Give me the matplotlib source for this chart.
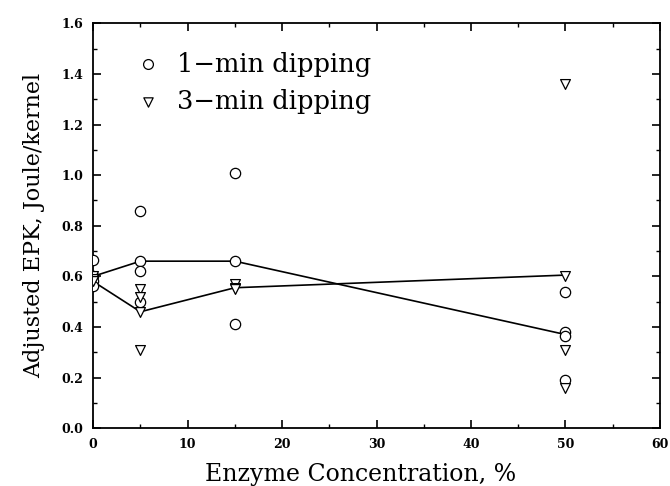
import numpy as np
import matplotlib
matplotlib.use('Agg')
import matplotlib.pyplot as plt
from matplotlib.ticker import MultipleLocator

# scatter data
x1 = [0, 0, 0, 0, 5, 5, 5, 5, 15, 15, 15, 50, 50, 50, 50]
y1 = [0.665, 0.60, 0.58, 0.56, 0.86, 0.66, 0.62, 0.50, 1.01, 0.66, 0.41, 0.54, 0.38, 0.365, 0.19]
x3 = [0, 0, 0, 5, 5, 5, 5, 15, 15, 15, 50, 50, 50, 50]
y3 = [0.60, 0.59, 0.58, 0.55, 0.52, 0.46, 0.31, 0.57, 0.555, 0.55, 1.36, 0.60, 0.31, 0.16]

# mean lines
xm = [0, 5, 15, 50]
m1 = [0.60, 0.66, 0.66, 0.37]
m3 = [0.58, 0.46, 0.555, 0.605]

plt.rcParams['font.family'] = ['DejaVu Serif']

fig = plt.figure(figsize=(6.7, 4.86), dpi=100)
ax = fig.add_axes([0.139, 0.119, 0.846, 0.833])

ax.plot(xm, m1, color='black', lw=1.2, zorder=2)
ax.plot(xm, m3, color='black', lw=1.2, zorder=2)
ax.scatter(x1, y1, marker='o', s=55, facecolors='white', edgecolors='black', linewidths=0.9, zorder=3)
ax.scatter(x3, y3, marker='v', s=50, facecolors='white', edgecolors='black', linewidths=0.9, zorder=3)

ax.set_xlim(0, 60)
ax.set_ylim(0, 1.6)
ax.xaxis.set_major_locator(MultipleLocator(10))
ax.xaxis.set_minor_locator(MultipleLocator(5))
ax.yaxis.set_major_locator(MultipleLocator(0.2))
ax.yaxis.set_minor_locator(MultipleLocator(0.1))
ax.yaxis.set_major_formatter(plt.FuncFormatter(lambda v, p: '%.1f' % v))
ax.tick_params(which='both', direction='in', top=True, right=True, labelsize=9)
ax.tick_params(which='major', length=6, width=1.2, pad=7)
ax.tick_params(which='minor', length=3, width=1.0)
for lab in ax.get_xticklabels() + ax.get_yticklabels():
    lab.set_fontweight('bold')
for sp in ax.spines.values():
    sp.set_linewidth(1.3)

fig.text(361 / 670, 0.024, 'Enzyme Concentration, %', fontsize=17, ha='center', va='center')
ax.set_ylabel('Adjusted EPK, Joule/kernel', fontsize=16, labelpad=12)

# legend drawn by hand like the original
ax.scatter([5.8], [1.438], marker='o', s=50, facecolors='white', edgecolors='black', linewidths=0.9)
ax.scatter([5.8], [1.291], marker='v', s=45, facecolors='white', edgecolors='black', linewidths=0.9)
ax.text(8.9, 1.438, '1\u2212min dipping', fontsize=18.5, va='center')
ax.text(8.9, 1.291, '3\u2212min dipping', fontsize=18.5, va='center')

fig.savefig('out.png', dpi=100)
